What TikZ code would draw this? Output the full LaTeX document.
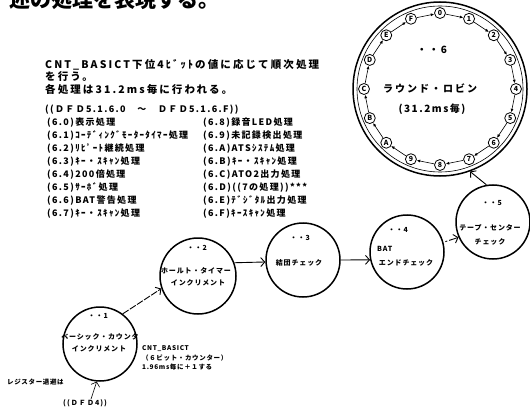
\documentclass[tikz,border=0pt]{standalone}
\usepackage{fontspec}
\setmainfont{Noto Sans CJK JP}
\usetikzlibrary{arrows.meta,calc}
\begin{document}
\begin{tikzpicture}[x=1pt,y=-1pt,
  proc/.style={circle,draw,line width=1.5pt,minimum size=74pt,inner sep=0pt},
  clab/.style={font=\fontsize{7}{8}\selectfont\bfseries\addfontfeatures{LetterSpace=12},inner sep=0pt},
  blk/.style={font=\fontsize{10.5}{12}\selectfont\bfseries\addfontfeatures{LetterSpace=20},inner sep=0pt,anchor=west},
  lst/.style={font=\fontsize{9}{10}\selectfont\bfseries\addfontfeatures{LetterSpace=15},inner sep=0pt,anchor=west},
  note/.style={font=\fontsize{6.5}{7}\selectfont\bfseries\addfontfeatures{LetterSpace=10},inner sep=0pt,anchor=west},
  flow/.style={line width=0.9pt,-{Straight Barb[length=4pt,width=9pt]}},
  ring/.style={circle,draw,line width=0.8pt,minimum size=11pt,inner sep=0pt,fill=white,font=\fontsize{7}{7}\selectfont\bfseries},
  rarr/.style={line width=0.6pt,-{Latex[length=3.5pt,width=3pt]}}
]
\useasboundingbox (0,0) rectangle (530,409);

% heading (clipped at top)
\node[anchor=base west,inner sep=0pt,font=\fontsize{21}{21}\selectfont\bfseries] (head) at (9,8) {述の処理を表現する。};

% description block
\node[blk] (d1) at (45,65) {CNT\_BASICT下位4ﾋﾞｯﾄの値に応じて順次処理};
\node[blk] (d2) at (45,77) {を行う。};
\node[blk] (d3) at (45,89) {各処理は31.2ms毎に行われる。};
\node[lst] (d4) at (45,110) {((ＤＦＤ5.1.6.0　～　ＤＦＤ5.1.6.F))};

\foreach \t [count=\i from 0] in {(6.0)表示処理,(6.1)ｺｰﾃﾞｨﾝｸﾞﾓｰﾀｰﾀｲﾏｰ処理,(6.2)ﾘﾋﾟｰﾄ継続処理,(6.3)ｷｰ・ｽｷｬﾝ処理,(6.4)200倍処理,(6.5)ｻｰﾎﾞ処理,(6.6)BAT警告処理,(6.7)ｷｰ・ｽｷｬﾝ処理}
  \node[lst] (la\i) at (47,123+12.9*\i) {\t};
\foreach \t [count=\i from 0] in {(6.8)録音LED処理,(6.9)未記録検出処理,(6.A)ATSｼｽﾃﾑ処理,(6.B)ｷｰ・ｽｷｬﾝ処理,(6.C)ATO2出力処理,(6.D)((7の処理))***,(6.E)ﾃﾞｼﾞﾀﾙ出力処理,(6.F)ｷｰｽｷｬﾝ処理}
  \node[lst] (lb\i) at (203,123+12.9*\i) {\t};

% round robin circle
\node[circle,draw,line width=1.5pt,minimum size=174pt,inner sep=0pt] (c6) at (440,89) {};
\node[circle,draw,line width=0.6pt,minimum size=166pt,inner sep=0pt] (c6i) at (440,89) {};
\node[font=\fontsize{10}{11}\selectfont\bfseries\addfontfeatures{LetterSpace=20},inner sep=0pt] (c6a) at (432,50) {・・6};
\node[font=\fontsize{10}{11}\selectfont\bfseries\addfontfeatures{LetterSpace=20},inner sep=0pt] (c6b) at (430,88) {ラウンド・ロビン};
\node[font=\fontsize{10}{11}\selectfont\bfseries\addfontfeatures{LetterSpace=15},inner sep=0pt] (c6c) at (432,109) {(31.2ms毎)};

\foreach \l [count=\i from 0] in {0,1,2,3,4,5,6,7,8,9,A,B,C,D,E,F}
  \node[ring] (r\i) at ($(440,89)+({90-22.5*\i}:76 and -76)$) {\l};
\foreach \i in {0,...,15}{
  \pgfmathtruncatemacro\j{mod(\i+1,16)}
  \draw[rarr] (r\i) -- (r\j);
}

% process circles
\node[proc] (c1) at (100,344) {};
\node[proc,minimum size=76pt] (c2) at (198,276) {};
\node[proc] (c3) at (303,260) {};
\node[proc] (c4) at (407,252) {};
\node[proc] (c5) at (493,222) {};

\node[clab] (c1a) at (98,316) {・・1};
\node[clab] (c1b) at (100,337) {ベーシック・カウンタ};
\node[clab] (c1c) at (99,349) {インクリメント};

\node[clab] (c2a) at (197,248) {・・2};
\node[clab] (c2b) at (196,271) {ホールト・タイマー};
\node[clab] (c2c) at (198,283) {インクリメント};

\node[clab] (c3a) at (300,238) {・・3};
\node[clab] (c3b) at (299,263) {結団チェック};

\node[clab] (c4a) at (398,230) {・・4};
\node[clab,anchor=west] (c4b) at (377,249) {BAT};
\node[clab] (c4c) at (406,263) {エンドチェック};

\node[clab] (c5a) at (492,203) {・・5};
\node[clab] (c5b) at (490,228) {テープ・センター};
\node[clab] (c5c) at (490,242) {チェック};

% connectors
\draw[flow,dash pattern=on 7pt off 1.5pt] (c1.53) -- (c2.199);
\draw[flow] (c2.20) -- (c3.183);
\draw[flow] (c3.0) -- (c4.192);
\draw[flow,shorten <=2pt,dash pattern=on 2pt off 2pt on 9pt off 0pt] (c4.15) -- (c5.204);
\draw[flow] (c5.100) -- (c6.290);

% notes
\node[note] (n1) at (142,349) {CNT\_BASICT};
\node[note] (n2) at (142,358) {（６ビット・カウンター）};
\node[note] (n3) at (142,367) {1.96ms毎に＋１する};
\node[note] (n4) at (7,382) {レジスター退避は};
\node[note,font=\fontsize{7}{8}\selectfont\bfseries\addfontfeatures{LetterSpace=15}] (n5) at (63,403) {((ＤＦＤ4))};
\draw[flow,line width=0.6pt] (n5.north-|91,0) -- (c1.265);
\end{tikzpicture}
\end{document}
